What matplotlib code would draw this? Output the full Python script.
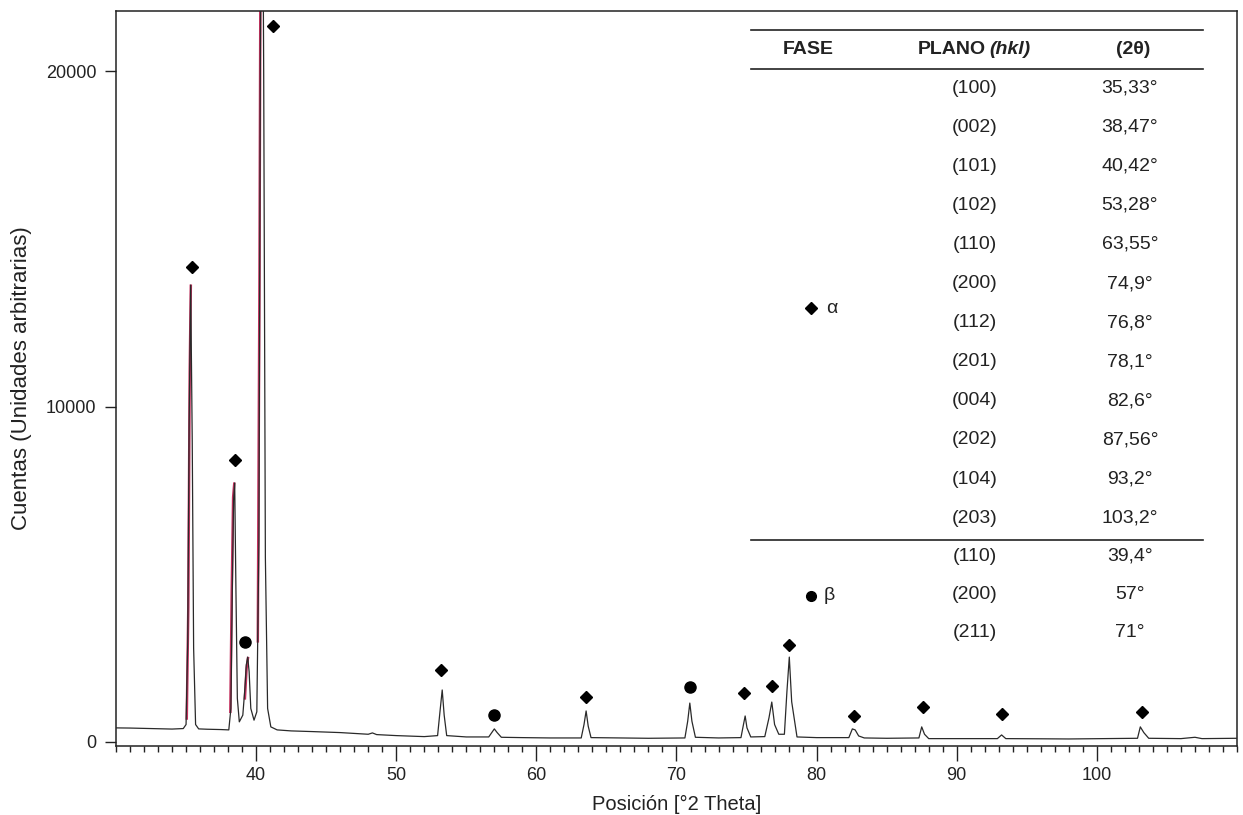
import matplotlib
matplotlib.use("Agg")
import matplotlib.pyplot as plt
from matplotlib.ticker import MultipleLocator, FixedLocator

plt.rcParams['font.family'] = ['Liberation Sans', 'DejaVu Sans']

two_theta = [30.0, 31.0, 32.0, 33.0, 34.0, 34.8, 35.0, 35.12, 35.22, 35.33, 35.44, 35.54,
             35.68, 35.9, 36.5, 37.5, 38.05, 38.2, 38.3, 38.39, 38.47, 38.56, 38.66, 38.8,
             39.05, 39.2, 39.3, 39.4, 39.5, 39.62, 39.85, 40.05, 40.2, 40.3, 40.42, 40.54,
             40.66, 40.82, 41.05, 41.5, 42.5, 44.0, 46.0, 48.0, 48.3, 48.6, 50.0, 52.0,
             52.95, 53.12, 53.28, 53.42, 53.6, 55.0, 56.6, 56.85, 57.0, 57.2, 57.5, 59.0,
             61.0, 63.2, 63.4, 63.55, 63.7, 63.9, 66.0, 68.0, 70.6, 70.8, 70.95, 71.1,
             71.35, 73.0, 74.6, 74.78, 74.9, 75.03, 75.3, 76.3, 76.6, 76.8, 77.0, 77.3,
             77.7, 77.88, 78.05, 78.22, 78.6, 80.0, 82.3, 82.55, 82.75, 83.0, 83.4, 85.0,
             87.3, 87.5, 87.7, 88.0, 90.0, 92.9, 93.2, 93.5, 96.0, 98.0, 102.9, 103.1,
             103.35, 103.7, 106.0, 107.0, 107.5, 110.0]
counts = [420, 415, 405, 395, 385, 400, 520, 3000, 9500, 13620, 9000, 2800,
          520, 390, 380, 370, 360, 1000, 4500, 7200, 7720, 4500, 1300, 600,
          800, 1600, 2300, 2530, 2100, 1000, 650, 900, 6000, 20000, 30000, 20000,
          5500, 1000, 450, 360, 330, 310, 280, 230, 270, 220, 190, 160,
          190, 900, 1550, 800, 190, 150, 150, 300, 390, 280, 140, 130,
          120, 120, 520, 925, 470, 130, 120, 110, 120, 620, 1160, 620,
          140, 120, 130, 520, 775, 420, 150, 160, 720, 1190, 520, 230,
          230, 1500, 2530, 1200, 150, 130, 130, 390, 360, 180, 120, 110,
          120, 450, 230, 100, 100, 100, 210, 100, 95, 90, 110, 450,
          280, 110, 100, 140, 100, 110]

# second trace (red) visible on the strongest reflections only
ref_theta = [35.05, 35.16, 35.26, 35.34, float('nan'), 38.16, 38.26, 38.36, 38.44,
             float('nan'), 39.2, 39.32, 39.42, float('nan'), 40.12, 40.24, 40.36]
ref_counts = [700, 4000, 11000, 13600, float('nan'), 900, 4500, 7300, 7700,
              float('nan'), 1300, 2200, 2500, float('nan'), 3000, 14000, 30000]

# peak markers
alpha_x = [35.4, 38.5, 41.2, 53.19, 63.55, 74.8, 76.8, 78.0, 82.7, 87.6, 93.2, 103.2]
alpha_y = [14170, 8400, 21340, 2146, 1350, 1450, 1670, 2890, 775, 1050, 835, 885]
beta_x = [39.2, 57.0, 70.93]
beta_y = [2990, 805, 1650]

# table
alpha_planes = ['(100)', '(002)', '(101)', '(102)', '(110)', '(200)', '(112)', '(201)',
                '(004)', '(202)', '(104)', '(203)']
alpha_angles = ['35,33°', '38,47°', '40,42°', '53,28°', '63,55°', '74,9°', '76,8°', '78,1°',
                '82,6°', '87,56°', '93,2°', '103,2°']
beta_planes = ['(110)', '(200)', '(211)']
beta_angles = ['39,4°', '57°', '71°']

txt = '#222222'

fig = plt.figure(figsize=(12.43, 8.15), dpi=100)
ax = fig.add_axes([0.09332, 0.08466, 0.90185, 0.90184])

ax.plot(ref_theta, ref_counts, color='#c4305e', lw=1.8, zorder=2)
ax.plot(two_theta, counts, color='#2a2a2a', lw=0.9, zorder=3)
ax.plot(alpha_x, alpha_y, 'D', color='black', ms=6.5, zorder=4)
ax.plot(beta_x, beta_y, 'o', color='black', ms=8, zorder=4)

ax.set_xlim(30, 110)
ax.set_ylim(-120, 21790)
ax.xaxis.set_major_locator(FixedLocator([40, 50, 60, 70, 80, 90, 100]))
ax.xaxis.set_minor_locator(MultipleLocator(1))
ax.yaxis.set_major_locator(FixedLocator([0, 10000, 20000]))
ax.tick_params(axis='x', which='major', direction='out', length=11, width=1,
               labelsize=13, colors=txt, pad=4)
ax.tick_params(axis='x', which='minor', direction='out', length=4, width=1, colors=txt)
ax.tick_params(axis='y', direction='out', length=8, width=1, labelsize=13, colors=txt, pad=6)
for s in ax.spines.values():
    s.set_color('#222222')
    s.set_linewidth(1.1)

ax.set_xlabel('Posición [°2 Theta]', fontsize=14.5, color=txt, labelpad=8)
ax.set_ylabel('Cuentas (Unidades arbitrarias)', fontsize=16, color=txt, labelpad=10)

# table drawn in axes fraction
tr = ax.transAxes
for yl in [0.9741, 0.9211, 0.2803]:
    ax.plot([0.5665, 0.9697], [yl, yl], color='#222222', lw=1.2, transform=tr, clip_on=False)

hy = 0.9483
ax.text(0.6173, hy, 'FASE', transform=tr, ha='center', va='center', fontsize=14,
        fontweight='bold', color=txt)
ax.text(0.7761, hy, 'PLANO', transform=tr, ha='right', va='center', fontsize=14,
        fontweight='bold', color=txt)
ax.text(0.7788, hy, '(hkl)', transform=tr, ha='left', va='center', fontsize=14,
        fontweight='bold', style='italic', color=txt)
ax.text(0.9072, hy, '(2θ)', transform=tr, ha='center', va='center', fontsize=14,
        fontweight='bold', color=txt)

for i, (p, a) in enumerate(zip(alpha_planes, alpha_angles)):
    y = 0.8952 - i * 0.0532
    ax.text(0.7663, y, p, transform=tr, ha='center', va='center', fontsize=14, color=txt)
    ax.text(0.9045, y, a, transform=tr, ha='center', va='center', fontsize=14, color=txt)
for i, (p, a) in enumerate(zip(beta_planes, beta_angles)):
    y = 0.2585 - i * 0.0517
    ax.text(0.7663, y, p, transform=tr, ha='center', va='center', fontsize=14, color=txt)
    ax.text(0.9045, y, a, transform=tr, ha='center', va='center', fontsize=14, color=txt)

ax.plot([0.620], [0.5959], 'D', color='black', ms=6.5, transform=tr)
ax.text(0.6334, 0.5959, 'α', transform=tr, ha='left', va='center', fontsize=14, color=txt)
ax.plot([0.620], [0.2041], 'o', color='black', ms=7, transform=tr)
ax.text(0.6316, 0.2041, 'β', transform=tr, ha='left', va='center', fontsize=14, color=txt)

fig.savefig('out.png', dpi=100)
